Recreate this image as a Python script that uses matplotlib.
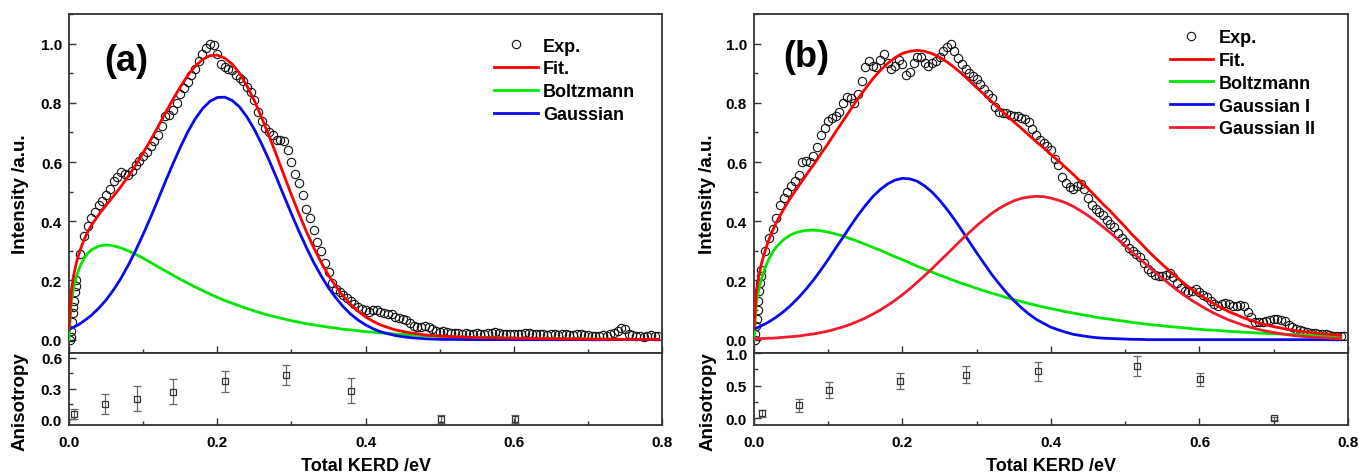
import numpy as np
import matplotlib
matplotlib.use("Agg")
import matplotlib.pyplot as plt
from matplotlib.ticker import MultipleLocator

plt.rcParams['font.family'] = ['Liberation Sans', 'DejaVu Sans']
plt.rcParams['font.weight'] = 'bold'
plt.rcParams['axes.labelweight'] = 'bold'

# ---------------- panel (a) ----------------
# experimental points: a few dense ones at the onset, then a 0.005 eV grid from 0.010 eV
exp_a_x0 = [0.001, 0.002, 0.003, 0.004, 0.005, 0.006, 0.007, 0.008, 0.009]
exp_a_y0 = [0.0, 0.01, 0.03, 0.06, 0.09, 0.11, 0.13, 0.16, 0.18]
exp_a_y = [
    0.20, 0.29, 0.35, 0.385, 0.41, 0.43, 0.455, 0.47, 0.49, 0.51,
    0.535, 0.55, 0.565, 0.56, 0.555, 0.57, 0.59, 0.605, 0.62, 0.635,
    0.655, 0.67, 0.69, 0.72, 0.755, 0.76, 0.775, 0.80, 0.83, 0.85,
    0.87, 0.895, 0.915, 0.94, 0.965, 0.985, 1.0, 0.995, 0.965, 0.93,
    0.92, 0.915, 0.91, 0.895, 0.885, 0.875, 0.855, 0.835, 0.81, 0.77,
    0.74, 0.715, 0.70, 0.69, 0.675, 0.675, 0.67, 0.64, 0.60, 0.56,
    0.53, 0.49, 0.44, 0.41, 0.37, 0.33, 0.30, 0.26, 0.23, 0.19,
    0.17, 0.16, 0.15, 0.14, 0.13, 0.12, 0.11, 0.105, 0.10, 0.095,
    0.10, 0.10, 0.095, 0.09, 0.088, 0.085, 0.078, 0.072, 0.07, 0.065,
    0.055, 0.045, 0.042, 0.043, 0.045, 0.043, 0.035, 0.028, 0.027, 0.028,
    0.026, 0.024, 0.022, 0.022, 0.020, 0.021, 0.019, 0.020, 0.021, 0.019,
    0.020, 0.021, 0.023, 0.025, 0.022, 0.020, 0.019, 0.020, 0.018, 0.019,
    0.020, 0.022, 0.021, 0.019, 0.018, 0.020, 0.019, 0.017, 0.019, 0.018,
    0.016, 0.018, 0.019, 0.017, 0.016, 0.018, 0.020, 0.017, 0.015, 0.012,
    0.014, 0.012, 0.016, 0.014, 0.018, 0.024, 0.030, 0.038, 0.036, 0.020,
    0.015, 0.013, 0.012, 0.010, 0.014, 0.015, 0.014, 0.013,
]

# fitted curves, sampled on fit_a_x
fit_a_x = ([0, 0.003, 0.006, 0.01, 0.015, 0.02, 0.025]
           + list(np.round(np.arange(0.03, 0.505, 0.01), 2))
           + [0.55, 0.60, 0.65, 0.70, 0.75, 0.795])
boltz_a = [
    0, 0.125, 0.172, 0.214, 0.249, 0.273, 0.291,
    0.303, 0.316, 0.320, 0.317, 0.310, 0.300, 0.288, 0.275,
    0.261, 0.246, 0.232, 0.218, 0.204, 0.191, 0.178, 0.166, 0.154, 0.143,
    0.132, 0.123, 0.114, 0.105, 0.097, 0.089, 0.082, 0.076, 0.070, 0.064,
    0.059, 0.054, 0.050, 0.046, 0.042, 0.039, 0.035, 0.033, 0.030, 0.027,
    0.025, 0.023, 0.021, 0.019, 0.018, 0.016, 0.015, 0.013, 0.012, 0.011,
    0.007, 0.005, 0.003, 0.002, 0.001, 0.001,
]
gauss_a = [
    0.035, 0.038, 0.042, 0.047, 0.054, 0.063, 0.072,
    0.082, 0.106, 0.134, 0.168, 0.207, 0.252, 0.302, 0.356,
    0.413, 0.473, 0.534, 0.593, 0.649, 0.701, 0.745, 0.780, 0.805, 0.818,
    0.819, 0.808, 0.786, 0.752, 0.710, 0.660, 0.605, 0.546, 0.485, 0.425,
    0.367, 0.312, 0.261, 0.216, 0.175, 0.141, 0.111, 0.086, 0.066, 0.050,
    0.037, 0.027, 0.020, 0.014, 0.010, 0.007, 0.005, 0.003, 0.002, 0.001,
    0, 0, 0, 0, 0, 0,
]
fit_a = [
    0.035, 0.163, 0.214, 0.261, 0.303, 0.336, 0.363,
    0.385, 0.422, 0.454, 0.485, 0.517, 0.552, 0.590, 0.631,
    0.674, 0.719, 0.766, 0.811, 0.853, 0.892, 0.923, 0.946, 0.959, 0.961,
    0.951, 0.931, 0.900, 0.857, 0.807, 0.749, 0.687, 0.622, 0.555, 0.489,
    0.426, 0.366, 0.311, 0.262, 0.217, 0.180, 0.146, 0.119, 0.096, 0.077,
    0.062, 0.050, 0.041, 0.033, 0.028, 0.023, 0.020, 0.016, 0.014, 0.012,
    0.007, 0.005, 0.003, 0.002, 0.001, 0.001,
]

anis_a_x = [0.007, 0.048, 0.092, 0.140, 0.210, 0.293, 0.381, 0.502, 0.602]
anis_a_y = [0.055, 0.15, 0.20, 0.27, 0.37, 0.43, 0.28, 0.0, 0.0]
anis_a_err = [0.05, 0.10, 0.12, 0.12, 0.10, 0.10, 0.12, 0.04, 0.04]

# ---------------- panel (b) ----------------
exp_b_x0 = [0.001, 0.002, 0.003, 0.004, 0.005, 0.006, 0.007, 0.008, 0.009]
exp_b_y0 = [0.0, 0.02, 0.045, 0.07, 0.10, 0.13, 0.165, 0.19, 0.215]
exp_b_y = [
    0.235, 0.30, 0.345, 0.375, 0.41, 0.455, 0.48, 0.50, 0.52, 0.535,
    0.555, 0.60, 0.605, 0.60, 0.62, 0.65, 0.69, 0.715, 0.74, 0.75,
    0.755, 0.77, 0.80, 0.82, 0.815, 0.80, 0.83, 0.875, 0.92, 0.94,
    0.925, 0.92, 0.945, 0.965, 0.935, 0.915, 0.925, 0.945, 0.93, 0.895,
    0.905, 0.935, 0.955, 0.955, 0.935, 0.925, 0.935, 0.94, 0.955, 0.975,
    0.99, 1.0, 0.975, 0.95, 0.93, 0.915, 0.90, 0.89, 0.88, 0.865,
    0.845, 0.83, 0.815, 0.785, 0.77, 0.765, 0.765, 0.76, 0.755, 0.755,
    0.75, 0.745, 0.735, 0.71, 0.69, 0.675, 0.665, 0.655, 0.64, 0.61,
    0.59, 0.55, 0.53, 0.515, 0.51, 0.52, 0.525, 0.51, 0.48, 0.455,
    0.44, 0.43, 0.42, 0.405, 0.39, 0.38, 0.36, 0.345, 0.33, 0.31,
    0.30, 0.29, 0.28, 0.26, 0.24, 0.23, 0.22, 0.215, 0.215, 0.22,
    0.225, 0.21, 0.19, 0.175, 0.165, 0.16, 0.165, 0.17, 0.16, 0.15,
    0.145, 0.13, 0.12, 0.115, 0.12, 0.125, 0.12, 0.115, 0.115, 0.118,
    0.112, 0.095, 0.075, 0.06, 0.058, 0.06, 0.064, 0.068, 0.07, 0.07,
    0.068, 0.062, 0.05, 0.042, 0.037, 0.033, 0.03, 0.027, 0.024, 0.022,
    0.02, 0.019, 0.018, 0.016, 0.014, 0.013, 0.012, 0.012,
]

fit_b_x = ([0, 0.003, 0.006, 0.01, 0.015, 0.02, 0.025]
           + list(np.round(np.arange(0.03, 0.795, 0.01), 2)))
boltz_b = [
    0, 0.118, 0.163, 0.205, 0.243, 0.272, 0.295,
    0.313, 0.338, 0.355, 0.364, 0.369, 0.370, 0.368, 0.363,
    0.357, 0.350, 0.341, 0.332, 0.322, 0.312, 0.302, 0.291, 0.280, 0.270,
    0.259, 0.248, 0.238, 0.228, 0.218, 0.209, 0.199, 0.190, 0.182, 0.173,
    0.165, 0.157, 0.150, 0.142, 0.135, 0.129, 0.122, 0.116, 0.110, 0.105,
    0.100, 0.094, 0.090, 0.085, 0.081, 0.076, 0.072, 0.069, 0.065, 0.062,
    0.058, 0.055, 0.052, 0.049, 0.047, 0.044, 0.042, 0.040, 0.037, 0.035,
    0.033, 0.032, 0.030, 0.028, 0.027, 0.025, 0.024, 0.022, 0.021, 0.020,
    0.019, 0.018, 0.017, 0.016, 0.015, 0.014, 0.013, 0.013, 0.012,
]
gauss1_b = [
    0.036, 0.039, 0.042, 0.047, 0.053, 0.060, 0.068,
    0.076, 0.095, 0.117, 0.142, 0.170, 0.201, 0.235, 0.271,
    0.309, 0.346, 0.384, 0.420, 0.453, 0.483, 0.507, 0.526, 0.539, 0.545,
    0.543, 0.535, 0.519, 0.498, 0.471, 0.440, 0.406, 0.369, 0.331, 0.293,
    0.257, 0.221, 0.189, 0.159, 0.132, 0.108, 0.087, 0.069, 0.055, 0.042,
    0.033, 0.025, 0.018, 0.014, 0.010, 0.007, 0.005, 0.004, 0.003, 0.002,
    0.001, 0.001, 0, 0, 0, 0, 0, 0, 0, 0,
    0, 0, 0, 0, 0, 0, 0, 0, 0, 0,
    0, 0, 0, 0, 0, 0, 0, 0, 0,
]
gauss2_b = [
    0.003, 0.003, 0.003, 0.004, 0.004, 0.005, 0.005,
    0.006, 0.008, 0.010, 0.012, 0.016, 0.019, 0.024, 0.029,
    0.036, 0.043, 0.052, 0.062, 0.073, 0.086, 0.100, 0.116, 0.133, 0.152,
    0.172, 0.194, 0.217, 0.240, 0.265, 0.289, 0.314, 0.339, 0.362, 0.385,
    0.406, 0.426, 0.443, 0.457, 0.469, 0.477, 0.482, 0.484, 0.483, 0.478,
    0.471, 0.462, 0.450, 0.435, 0.419, 0.401, 0.381, 0.361, 0.339, 0.317,
    0.294, 0.272, 0.250, 0.228, 0.207, 0.187, 0.167, 0.149, 0.132, 0.117,
    0.102, 0.089, 0.077, 0.066, 0.057, 0.048, 0.041, 0.034, 0.029, 0.024,
    0.020, 0.016, 0.013, 0.011, 0.009, 0.007, 0.006, 0.004, 0.003,
]
fit_b = [
    0.039, 0.160, 0.208, 0.256, 0.300, 0.337, 0.368,
    0.395, 0.441, 0.482, 0.518, 0.555, 0.590, 0.627, 0.663,
    0.702, 0.739, 0.777, 0.814, 0.848, 0.881, 0.909, 0.933, 0.952, 0.967,
    0.974, 0.977, 0.974, 0.966, 0.954, 0.938, 0.919, 0.898, 0.875, 0.851,
    0.828, 0.804, 0.782, 0.758, 0.736, 0.714, 0.691, 0.669, 0.648, 0.625,
    0.604, 0.581, 0.558, 0.534, 0.510, 0.484, 0.458, 0.434, 0.407, 0.381,
    0.353, 0.328, 0.302, 0.277, 0.254, 0.231, 0.209, 0.189, 0.169, 0.152,
    0.135, 0.121, 0.107, 0.094, 0.084, 0.073, 0.065, 0.056, 0.050, 0.044,
    0.039, 0.034, 0.030, 0.027, 0.024, 0.021, 0.019, 0.017, 0.015,
]

anis_b_x = [0.011, 0.060, 0.101, 0.197, 0.285, 0.383, 0.516, 0.601, 0.701]
anis_b_y = [0.08, 0.20, 0.43, 0.57, 0.67, 0.72, 0.80, 0.60, 0.0]
anis_b_err = [0.05, 0.10, 0.12, 0.12, 0.13, 0.15, 0.15, 0.10, 0.03]

RED = '#ff0000'
GREEN = '#00e600'
BLUE = '#0a0aef'
RED2 = '#ee1c2e'
SPINE = '#333333'


def style_axes(ax):
    for s in ax.spines.values():
        s.set_linewidth(1.3)
        s.set_color(SPINE)
    ax.tick_params(which='both', direction='in', top=False, right=False,
                   width=1.0, color=SPINE, labelsize=11)
    ax.tick_params(which='major', length=5)
    ax.tick_params(which='minor', length=3)
    ax.xaxis.set_major_locator(MultipleLocator(0.2))
    ax.xaxis.set_minor_locator(MultipleLocator(0.1))
    ax.set_xlim(0, 0.8)


def draw_panel(rect, tag, exp_x, exp_y, fx, curves, ax_x, ax_y, ax_err,
               anis_ylim, anis_step, leg_anchor, tag_pos, ylab_x):
    left, width = rect
    ax = fig.add_axes([left, 0.2579, width, 0.7107])
    axb = fig.add_axes([left, 0.1069, width, 0.1509])

    style_axes(ax)
    ax.set_ylim(-0.045, 1.1)
    ax.yaxis.set_major_locator(MultipleLocator(0.2))
    ax.yaxis.set_minor_locator(MultipleLocator(0.1))
    ax.yaxis.set_major_formatter(plt.FormatStrFormatter('%.1f'))
    ax.tick_params(axis='x', labelbottom=False)
    ax.tick_params(axis='y', pad=5)

    h_exp, = ax.plot(exp_x, exp_y, 'o', ms=6, mfc='none', mec='#111111',
                     mew=0.8, zorder=2, label='Exp.')
    handles = [h_exp]
    for name, ys, col in curves:
        h, = ax.plot(fx, ys, '-', color=col, lw=2.0, label=name,
                     zorder=4 if name == 'Fit.' else 3)
        handles.append(h)
    ax.legend(handles=handles, loc='upper left', bbox_to_anchor=leg_anchor,
              frameon=False, fontsize=13, handlelength=2.4, handletextpad=0.3,
              labelspacing=0.32, borderpad=0, borderaxespad=0, numpoints=1)
    ax.text(tag_pos[0], tag_pos[1], tag, transform=ax.transAxes, fontsize=26,
            fontweight='bold', va='center', ha='left')
    ax.set_ylabel('Intensity /a.u.', fontsize=13.5)
    ax.yaxis.set_label_coords(ylab_x, 0.47)
    ax.yaxis.label.set_va('center')

    style_axes(axb)
    axb.errorbar(ax_x, ax_y, yerr=ax_err, fmt='s', ms=5, mfc='none',
                 mec='#333333', mew=0.9, ecolor='#666666', elinewidth=0.9,
                 capsize=3, capthick=0.9)
    axb.set_ylim(*anis_ylim)
    axb.yaxis.set_major_locator(MultipleLocator(anis_step))
    axb.yaxis.set_minor_locator(MultipleLocator(anis_step / 2))
    axb.yaxis.set_major_formatter(plt.FormatStrFormatter('%.1f'))
    axb.xaxis.set_major_formatter(plt.FormatStrFormatter('%.1f'))
    axb.tick_params(axis='y', pad=5)
    axb.tick_params(axis='x', pad=7)
    axb.set_ylabel('Anisotropy', fontsize=13.5)
    axb.yaxis.set_label_coords(ylab_x, 0.34)
    axb.yaxis.label.set_va('center')
    axb.set_xlabel('Total KERD /eV', fontsize=13)
    axb.xaxis.set_label_coords(0.5, -0.556)
    axb.xaxis.label.set_va('center')
    return ax, axb


fig = plt.figure(figsize=(13.59, 4.77), dpi=100)

draw_panel((0.0508, 0.4364), '(a)', exp_a_x0 + list(0.01 + 0.005 * np.arange(len(exp_a_y))),
           exp_a_y0 + exp_a_y, fit_a_x,
           [('Fit.', fit_a, RED), ('Boltzmann', boltz_a, GREEN), ('Gaussian', gauss_a, BLUE)],
           anis_a_x, anis_a_y, anis_a_err, (-0.055, 0.645), 0.3,
           (0.717, 0.93), (0.059, 0.864), -0.0826)

draw_panel((0.5548, 0.4371), '(b)', exp_b_x0 + list(0.01 + 0.005 * np.arange(len(exp_b_y))),
           exp_b_y0 + exp_b_y, fit_b_x,
           [('Fit.', fit_b, RED), ('Boltzmann', boltz_b, GREEN),
            ('Gaussian I', gauss1_b, BLUE), ('Gaussian II', gauss2_b, RED2)],
           anis_b_x, anis_b_y, anis_b_err, (-0.1, 1.0), 0.5,
           (0.700, 0.955), (0.049, 0.876), -0.0774)

fig.savefig('out.png', dpi=100)
